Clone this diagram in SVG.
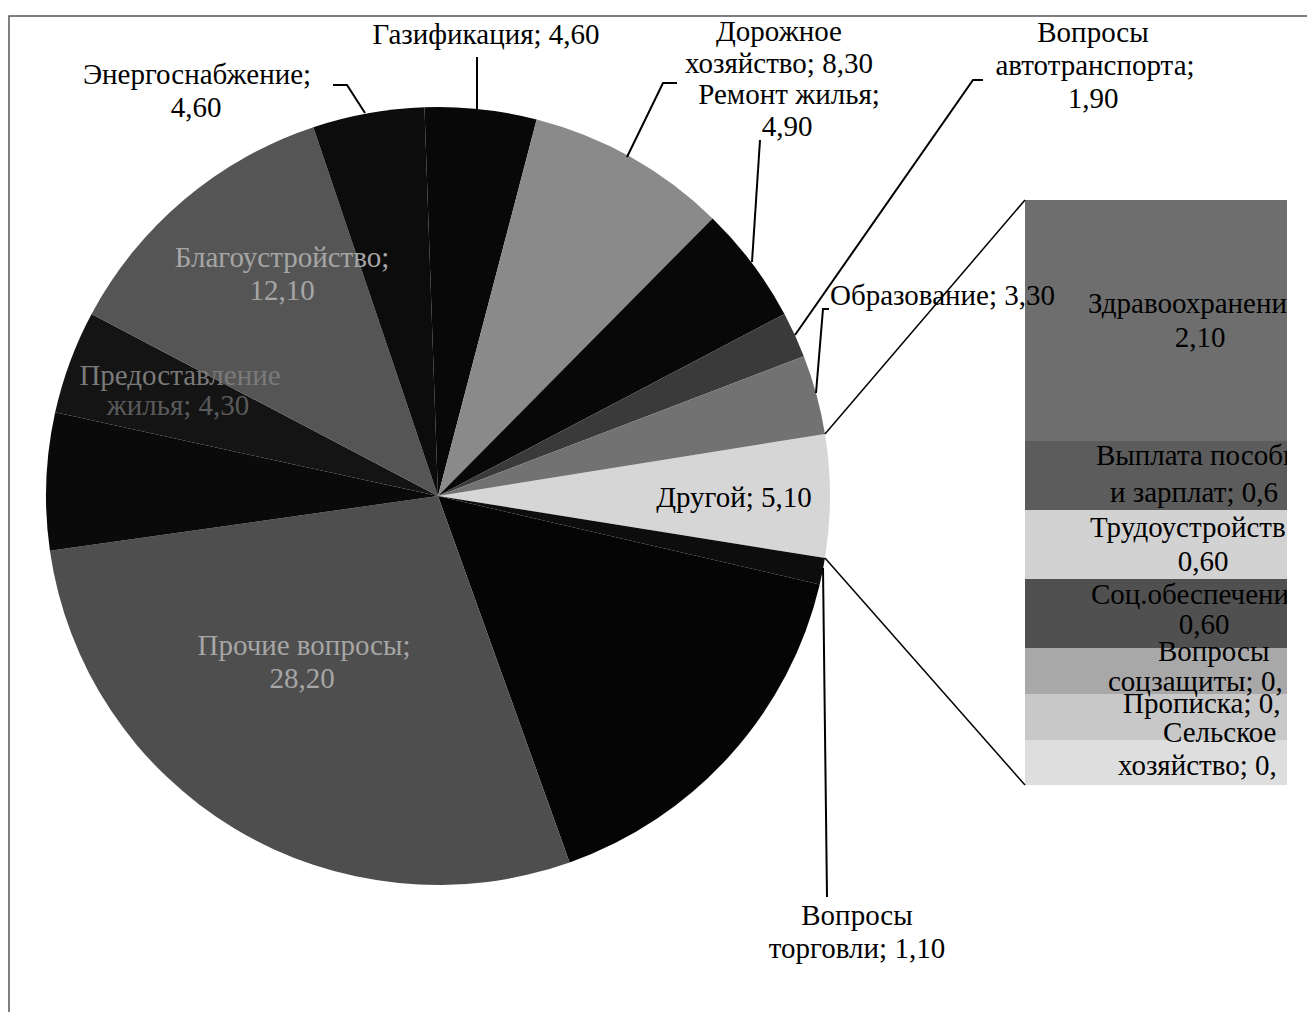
<svg xmlns="http://www.w3.org/2000/svg" width="1307" height="1012" viewBox="0 0 1307 1012">
<style>
.t{font-family:"Liberation Serif","Times New Roman",serif;font-size:29px;fill:#000}
.m{text-anchor:middle}
.in{fill:#a6a6a6}
.ln{stroke:#000;stroke-width:2;fill:none}
.fr{stroke:#555;stroke-width:1.5;fill:none}
</style>
<defs>
<clipPath id="clip"><rect x="0" y="0" width="1287" height="1012"/></clipPath>
</defs>
<rect width="1307" height="1012" fill="#fff"/>
<g id="frame">
<path class="fr" d="M9 1012 V16 H1307"/>
</g>
<g id="pie">
<g id="s-drugoy"><path d="M438 496 L824.98 433.95 A392 389 0 0 1 824.98 558.05 Z" fill="#d6d6d6"/></g>
<g id="s-torgovli"><path d="M438 496 L824.98 558.05 A392 389 0 0 1 819.74 584.43 Z" fill="#0d0d0d"/></g>
<g id="s-x"><path d="M438 496 L819.74 584.43 A392 389 0 0 1 569.62 862.41 Z" fill="#050505"/></g>
<g id="s-prochie"><path d="M438 496 L569.62 862.41 A392 389 0 0 1 49.91 550.81 Z" fill="#4e4e4e"/></g>
<g id="s-y"><path d="M438 496 L49.91 550.81 A392 389 0 0 1 55.17 412.33 Z" fill="#0a0a0a"/></g>
<g id="s-predost"><path d="M438 496 L55.17 412.33 A392 389 0 0 1 91.56 313.98 Z" fill="#141414"/></g>
<g id="s-blago"><path d="M438 496 L91.56 313.98 A392 389 0 0 1 313.34 127.19 Z" fill="#555"/></g>
<g id="s-energo"><path d="M438 496 L313.34 127.19 A392 389 0 0 1 424.46 107.23 Z" fill="#0c0c0c"/></g>
<g id="s-gaz"><path d="M438 496 L424.46 107.23 A392 389 0 0 1 536.67 119.53 Z" fill="#080808"/></g>
<g id="s-dor"><path d="M438 496 L536.67 119.53 A392 389 0 0 1 712.59 218.38 Z" fill="#8a8a8a"/></g>
<g id="s-remont"><path d="M438 496 L712.59 218.38 A392 389 0 0 1 784.44 313.98 Z" fill="#080808"/></g>
<g id="s-avto"><path d="M438 496 L784.44 313.98 A392 389 0 0 1 803.82 356.2 Z" fill="#3a3a3a"/></g>
<g id="s-obraz"><path d="M438 496 L803.82 356.2 A392 389 0 0 1 824.98 433.95 Z" fill="#727272"/></g>
</g>
<g id="bar" clip-path="url(#clip)">
<g id="b-zdrav"><rect x="1025" y="200" width="300" height="241" fill="#6e6e6e"/></g>
<g id="b-vyplata"><rect x="1025" y="441" width="300" height="69" fill="#5c5c5c"/></g>
<g id="b-trud"><rect x="1025" y="510" width="300" height="69" fill="#d2d2d2"/></g>
<g id="b-soc"><rect x="1025" y="579" width="300" height="69" fill="#505050"/></g>
<g id="b-soczash"><rect x="1025" y="648" width="300" height="46" fill="#a8a8a8"/></g>
<g id="b-propiska"><rect x="1025" y="694" width="300" height="46" fill="#c8c8c8"/></g>
<g id="b-selsk"><rect x="1025" y="740" width="300" height="45" fill="#dedede"/></g>
<g id="bar-labels">
<text class="t" x="1088" y="313">Здравоохранени</text>
<text class="t m" x="1200" y="347">2,10</text>
<text class="t" x="1096" y="465">Выплата пособи</text>
<text class="t" x="1110" y="502">и зарплат; 0,6</text>
<text class="t" x="1090" y="537">Трудоустройств</text>
<text class="t m" x="1203" y="571">0,60</text>
<text class="t" x="1091" y="604">Соц.обеспечени</text>
<text class="t m" x="1204" y="634">0,60</text>
<text class="t" x="1158" y="661">Вопросы</text>
<text class="t" x="1108" y="691">соцзащиты; 0,</text>
<text class="t" x="1123" y="713">Прописка; 0,</text>
<text class="t" x="1163" y="742">Сельское</text>
<text class="t" x="1118" y="775">хозяйство; 0,</text>
</g>
</g>
<g id="connectors">
<path class="ln" d="M333 85 H347 L365 113"/>
<path class="ln" d="M477 57 V110"/>
<path class="ln" d="M677 83 H663 L627 157"/>
<path class="ln" d="M760 140 L752 262"/>
<path class="ln" d="M983 80 H973 L795 335"/>
<path class="ln" d="M829 309 H823 L816 393"/>
<path class="ln" d="M823 568 L827 897"/>
<path d="M824.98 433.95 L1025 200" stroke="#000" stroke-width="1.5"/>
<path d="M824.98 558.05 L1025 785" stroke="#000" stroke-width="1.5"/>
</g>
<g id="labels">
<g id="l-energo"><text class="t m" x="197" y="84">Энергоснабжение;</text><text class="t m" x="196" y="117">4,60</text></g>
<g id="l-gaz"><text class="t m" x="486" y="44">Газификация; 4,60</text></g>
<g id="l-dor"><text class="t m" x="779" y="41">Дорожное</text><text class="t m" x="779" y="73">хозяйство; 8,30</text></g>
<g id="l-remont"><text class="t m" x="789" y="104">Ремонт жилья;</text><text class="t m" x="787" y="136">4,90</text></g>
<g id="l-avto"><text class="t m" x="1093" y="42">Вопросы</text><text class="t m" x="1095" y="75">автотранспорта;</text><text class="t m" x="1093" y="108">1,90</text></g>
<g id="l-obraz"><text class="t" x="830" y="305">Образование; 3,30</text></g>
<g id="l-drugoy"><text class="t m" x="734" y="507">Другой; 5,10</text></g>
<g id="l-torg"><text class="t m" x="857" y="925">Вопросы</text><text class="t m" x="857" y="958">торговли; 1,10</text></g>
<g id="l-blago"><text class="t m in" x="282" y="267">Благоустройство;</text><text class="t m in" x="282" y="300">12,10</text></g>
<g id="l-predost"><text class="t m" x="180" y="385" style="fill:#7a7a7a">Предоставление</text><text class="t m" x="178" y="415" style="fill:#5a5a5a">жилья; 4,30</text></g>
<g id="l-prochie"><text class="t m in" x="304" y="655">Прочие вопросы;</text><text class="t m in" x="302" y="688">28,20</text></g>
</g>
</svg>
